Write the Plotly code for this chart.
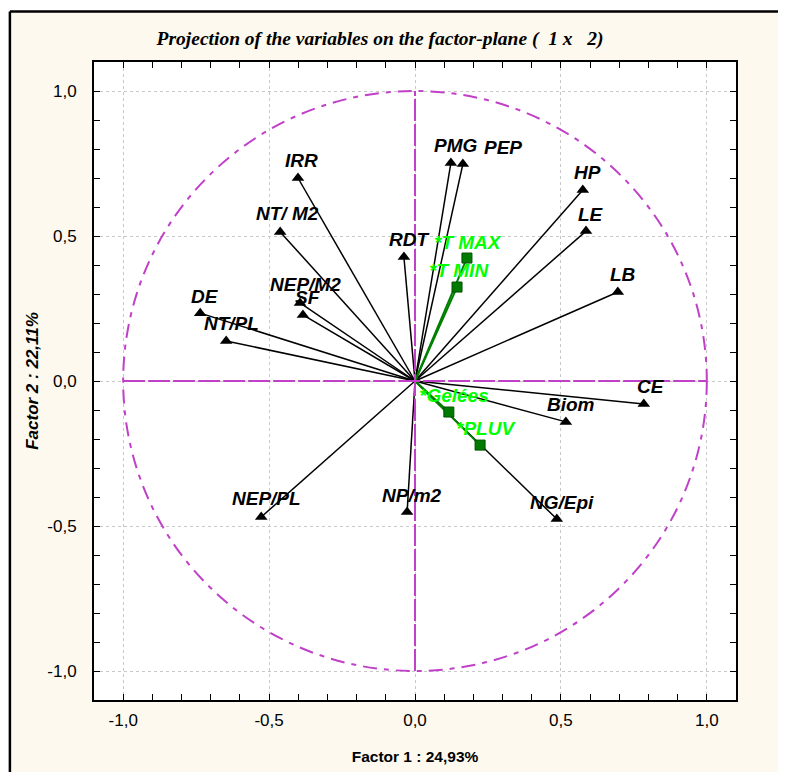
import plotly.graph_objects as go

# Active variables (Factor 1, Factor 2 coordinates)
var_names = ["IRR", "NT/ M2", "PMG", "PEP", "HP", "LE", "LB", "RDT", "NEP/M2", "SF",
             "DE", "NT/PL", "CE", "Biom", "NG/Epi", "NEP/PL", "NP/m2"]
var_f1 = [-0.401, -0.462, 0.123, 0.164, 0.575, 0.586, 0.695, -0.038, -0.394, -0.384,
          -0.736, -0.647, 0.784, 0.517, 0.486, -0.527, -0.027]
var_f2 = [0.700, 0.514, 0.752, 0.748, 0.659, 0.517, 0.307, 0.428, 0.269, 0.228,
          0.234, 0.138, -0.079, -0.141, -0.476, -0.469, -0.452]

# Supplementary variables
sup_names = ["*T MAX", "*T MIN", "*Gelées", "*PLUV"]
sup_f1 = [0.178, 0.144, 0.116, 0.223]
sup_f2 = [0.424, 0.324, -0.107, -0.221]

tick_vals = [-1.0, -0.5, 0.0, 0.5, 1.0]
tick_text = ["-1,0", "-0,5", "0,0", "0,5", "1,0"]

# label offsets (pixels) - styling only
default_shift = (5, 17)
special_shift = {"PEP": (40, 17), "NT/ M2": (7, 18), "IRR": (4, 18), "NEP/M2": (5, 18),
                 "NEP/PL": (5, 19), "CE": (7, 17), "*T MAX": (1, 16), "*T MIN": (2, 17)}

MAG = "#c040c8"
fig = go.Figure()

# vectors for active variables
lx, ly = [], []
for a, b in zip(var_f1, var_f2):
    lx += [0, a, None]
    ly += [0, b, None]
fig.add_trace(go.Scatter(x=lx, y=ly, mode="lines", line=dict(color="black", width=1.5),
                         hoverinfo="skip", showlegend=False))
# vectors for supplementary variables
sx, sy = [], []
for a, b in zip(sup_f1, sup_f2):
    sx += [0, a, None]
    sy += [0, b, None]
fig.add_trace(go.Scatter(x=sx, y=sy, mode="lines", line=dict(color="#008000", width=2),
                         hoverinfo="skip", showlegend=False))

fig.add_trace(go.Scatter(x=var_f1, y=var_f2, mode="markers", text=var_names,
                         marker=dict(symbol="triangle-up", size=11, color="black"),
                         showlegend=False))
fig.add_trace(go.Scatter(x=sup_f1, y=sup_f2, mode="markers", text=sup_names,
                         marker=dict(symbol="square", size=10, color="#007a00",
                                     line=dict(color="#005000", width=1)),
                         showlegend=False))

lab_font = dict(family="Liberation Sans, Arial, sans-serif", size=19, color="black",
                weight="bold", style="italic")
for n, a, b in zip(var_names, var_f1, var_f2):
    dx, dy = special_shift.get(n, default_shift)
    fig.add_annotation(x=a, y=b, text=n, showarrow=False, xshift=dx, yshift=dy,
                       font=lab_font)
for n, a, b in zip(sup_names, sup_f1, sup_f2):
    dx, dy = special_shift.get(n, default_shift)
    fig.add_annotation(x=a, y=b, text=n, showarrow=False, xshift=dx, yshift=dy,
                       font=dict(lab_font, color="#00ff00"))

FX0, FY1 = -0.131, 1.079
shapes = [
    # cream frame fill
    dict(type="rect", xref="paper", yref="paper", x0=FX0, x1=1.3, y0=-0.3, y1=FY1,
         fillcolor="#fdf9ee", line=dict(width=0), layer="below"),
    # frame left and top edges
    dict(type="line", xref="paper", yref="paper", x0=FX0, x1=FX0, y0=-0.3, y1=FY1,
         line=dict(color="black", width=2.5), layer="below"),
    dict(type="line", xref="paper", yref="paper", x0=FX0, x1=1.3, y0=FY1, y1=FY1,
         line=dict(color="black", width=2.5), layer="below"),
    # white plot area
    dict(type="rect", xref="paper", yref="paper", x0=0, x1=1, y0=0, y1=1,
         fillcolor="white", line=dict(width=0), layer="below"),
    # unit circle
    dict(type="circle", xref="x", yref="y", x0=-1, y0=-1, x1=1, y1=1,
         line=dict(color=MAG, width=2, dash="14px,7px,5px,7px")),
    dict(type="line", xref="x", yref="y", x0=-1, y0=0, x1=1, y1=0,
         line=dict(color=MAG, width=2, dash="22px,3px")),
    dict(type="line", xref="x", yref="y", x0=0, y0=-1, x1=0, y1=1,
         line=dict(color=MAG, width=2, dash="22px,3px")),
]

axis_common = dict(range=[-1.1, 1.1], tickmode="array", tickvals=tick_vals, ticktext=tick_text,
                   showgrid=True, gridcolor="#c8c8c8", griddash="dot", gridwidth=1,
                   zeroline=False, showline=True, linecolor="black", linewidth=2,
                   mirror="ticks", ticks="inside", ticklen=6, tickcolor="black",
                   minor=dict(dtick=0.1, ticks="inside", ticklen=6, tickcolor="black",
                              showgrid=False),
                   tickfont=dict(family="Liberation Sans, Arial, sans-serif", size=17,
                                 color="black"),
                   automargin=False, fixedrange=True)

fig.update_layout(
    width=778, height=764,
    margin=dict(l=86, r=50, t=54, b=72),
    paper_bgcolor="white", plot_bgcolor="white",
    shapes=shapes,
    title=dict(text="Projection of the variables on the factor-plane (\u00a0\u00a01 x \u00a0\u00a02)",
               x=372 / 778, xref="container", xanchor="center",
               y=1 - 30 / 764, yref="container", yanchor="middle",
               font=dict(family="Liberation Serif, Times New Roman, serif", size=19.5,
                         color="black", weight="bold", style="italic")),
    xaxis=dict(axis_common, ticklabelstandoff=4,
               title=dict(text="Factor 1 : 24,93%", standoff=22,
                          font=dict(family="Liberation Sans, Arial, sans-serif", size=15.5,
                                    color="black", weight="bold"))),
    yaxis=dict(axis_common, ticklabelstandoff=12,
               title=dict(text="Factor 2 : 22,11%", standoff=4,
                          font=dict(family="Liberation Sans, Arial, sans-serif", size=17,
                                    color="black", weight="bold", style="italic"))),
)

fig.write_html("out.html")
